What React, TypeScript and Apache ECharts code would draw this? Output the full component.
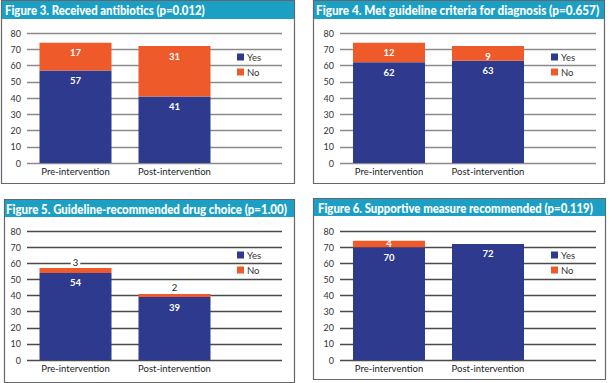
import React, { useEffect, useRef } from "react";
import * as echarts from "echarts";

const categories = ["Pre-intervention", "Post-intervention"];
const seriesNames = ["Yes", "No"];
const titles = [
  "Figure 3. Received antibiotics (p=0.012)",
  "Figure 4. Met guideline criteria for diagnosis (p=0.657)",
  "Figure 5. Guideline-recommended drug choice (p=1.00)",
  "Figure 6. Supportive measure recommended (p=0.119)",
];
const yes3 = [57, 41];
const no3 = [17, 31];
const yes4 = [62, 63];
const no4 = [12, 9];
const yes5 = [54, 39];
const no5 = [3, 2];
const yes6 = [70, 72];
const no6 = [4, 0];
const yMin = 0;
const yMax = 80;
const yInterval = 10;

const BLUE = "#2d3a8e";
const ORANGE = "#ef5a2b";
const TEAL = "#1c9fc5";
const TFONT = "900 14px Lato, 'Open Sans', sans-serif";
const LFONT = "Lato, 'Open Sans', sans-serif";

type Panel = {
  title: string;
  yes: number[];
  no: number[];
  box: [number, number, number, number];
  titleH: number;
  titleX: number;
  titleW: number;
  lineLeft: number;
  lineRight: number;
  barLeft: number;
  top: number;
  bottom: number;
  legendX: number;
  legendY: number;
  lineColor: string;
  noOutside: boolean;
};

const panels: Panel[] = [
  { title: titles[0], yes: yes3, no: no3, box: [1, 0, 294, 183], titleH: 18, titleX: 5, titleW: 200, lineLeft: 27, lineRight: 282, barLeft: 26, top: 33, bottom: 163, legendX: 237, legendY: 52, lineColor: "#8a8a8a", noOutside: false },
  { title: titles[1], yes: yes4, no: no4, box: [313, 0, 604, 183], titleH: 18, titleX: 316, titleW: 284, lineLeft: 340, lineRight: 596, barLeft: 339.5, top: 33, bottom: 163, legendX: 551, legendY: 52, lineColor: "#8a8a8a", noOutside: false },
  { title: titles[2], yes: yes5, no: no5, box: [4, 199, 294, 382], titleH: 17, titleX: 6, titleW: 281, lineLeft: 27, lineRight: 282, barLeft: 26, top: 231, bottom: 360, legendX: 237, legendY: 250, lineColor: "#4a4a4a", noOutside: true },
  { title: titles[3], yes: yes6, no: no6, box: [313, 198, 605, 379], titleH: 17, titleX: 318, titleW: 275, lineLeft: 340, lineRight: 596, barLeft: 339.5, top: 231, bottom: 360, legendX: 551, legendY: 250, lineColor: "#4a4a4a", noOutside: false },
];

function measure(text: string, font: string): number {
  const c = document.createElement("canvas");
  const ctx = c.getContext("2d");
  if (!ctx) return text.length * 7;
  ctx.font = font;
  return ctx.measureText(text).width;
}

export default function App() {
  const ref = useRef<HTMLDivElement>(null);
  useEffect(() => {
    if (!ref.current) return;
    const chart = echarts.init(ref.current, null, { renderer: "svg" });
    const grid: any[] = [];
    const xAxis: any[] = [];
    const yAxis: any[] = [];
    const series: any[] = [];
    const legend: any[] = [];
    const graphic: any[] = [];
    panels.forEach((p, i) => {
      const [x0, y0, x1, y1] = p.box;
      graphic.push({
        type: "rect",
        shape: { x: x0 + 0.5, y: y0 + 0.5, width: x1 - x0, height: y1 - y0 },
        style: { fill: "#fff", stroke: "#666", lineWidth: 1.2 },
        z: -10,
      });
      graphic.push({
        type: "rect",
        shape: { x: x0 + 1, y: y0 + 1, width: x1 - x0 - 1, height: p.titleH },
        style: { fill: TEAL },
        z: -9,
      });
      const w = measure(p.title, TFONT);
      graphic.push({
        type: "text",
        x: p.titleX,
        y: y0 + 1 + p.titleH / 2,
        scaleX: Math.min(1, p.titleW / w),
        style: {
          text: p.title,
          fill: "#fff",
          font: TFONT,
          verticalAlign: "middle",
          overflow: "none",
        },
        z: -8,
      });
      const bg = i * 2;
      const fg = i * 2 + 1;
      grid.push({
        left: p.lineLeft,
        top: p.top,
        width: p.lineRight - p.lineLeft,
        height: p.bottom - p.top,
        containLabel: false,
      });
      xAxis.push({ gridIndex: bg, type: "value", min: 0, max: 1, show: false });
      yAxis.push({
        gridIndex: bg,
        type: "value",
        min: yMin,
        max: yMax,
        interval: yInterval,
        axisLine: { show: false },
        axisTick: { show: false },
        axisLabel: { margin: 6, fontSize: 9, color: "#333", fontFamily: LFONT },
        splitLine: { lineStyle: { color: p.lineColor, width: 1.3 } },
      });
      grid.push({
        left: p.barLeft,
        top: p.top,
        width: 198,
        height: p.bottom - p.top,
        containLabel: false,
      });
      xAxis.push({
        gridIndex: fg,
        type: "category",
        data: categories,
        axisLine: { show: false },
        axisTick: { show: false },
        axisLabel: { margin: 3, fontSize: 9.5, color: "#222", fontFamily: LFONT },
      });
      yAxis.push({
        gridIndex: fg,
        type: "value",
        min: yMin,
        max: yMax,
        interval: yInterval,
        show: false,
        splitLine: { show: false },
      });
      series.push({
        name: seriesNames[0],
        type: "bar",
        stack: "s" + i,
        xAxisIndex: fg,
        yAxisIndex: fg,
        data: p.yes,
        barWidth: 72,
        itemStyle: { color: BLUE },
        label: {
          show: true,
          position: "insideTop",
          distance: 5,
          color: "#fff",
          fontSize: 9.5,
          fontWeight: "bold",
          fontFamily: LFONT,
        },
        z: 3,
      });
      series.push({
        name: seriesNames[1],
        type: "bar",
        stack: "s" + i,
        xAxisIndex: fg,
        yAxisIndex: fg,
        data: p.no,
        barWidth: 72,
        itemStyle: { color: ORANGE },
        label: p.noOutside
          ? {
              show: true,
              position: "top",
              distance: 1,
              color: "#222",
              fontSize: 9.5,
              fontFamily: LFONT,
              backgroundColor: "#fff",
              padding: [0, 2],
              formatter: (d: any) => (d.value ? String(d.value) : ""),
            }
          : {
              show: true,
              position: i === 3 ? "inside" : "insideTop",
              distance: 5,
              color: "#fff",
              fontSize: 9.5,
              fontWeight: "bold",
              fontFamily: LFONT,
              formatter: (d: any) => (d.value ? String(d.value) : ""),
            },
        z: 3,
      });
      legend.push({
        data: seriesNames,
        left: p.legendX,
        top: p.legendY,
        padding: 0,
        orient: "vertical",
        icon: "rect",
        itemWidth: 7,
        itemHeight: 7,
        itemGap: 5,
        selectedMode: false,
        textStyle: { fontSize: 9.5, color: "#333", fontFamily: LFONT, padding: [0, 0, 0, -2] },
      });
    });
    chart.setOption({
      animation: false,
      backgroundColor: "#fff",
      grid,
      xAxis,
      yAxis,
      series,
      legend,
      graphic,
    });
    return () => chart.dispose();
  }, []);
  return (
    <div
      ref={ref}
      style={{ position: "fixed", left: 0, top: 0, width: 610, height: 383 }}
    />
  );
}
